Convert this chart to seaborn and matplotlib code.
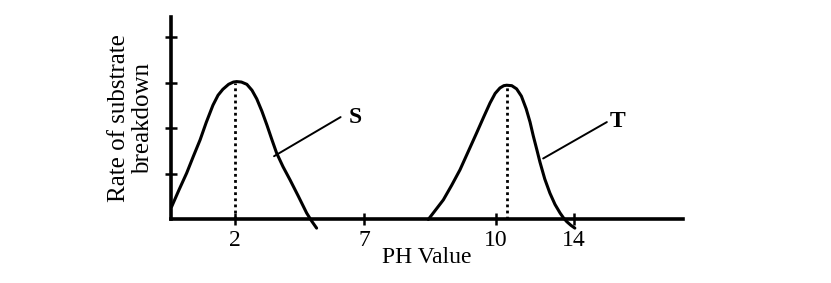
import matplotlib
matplotlib.use("Agg")
import matplotlib.pyplot as plt
import seaborn as sns
import pandas as pd

# ---- data (schematic axis units) ----
s_x = [0.02, 0.25, 0.49, 0.7, 0.91, 1.1, 1.31, 1.47, 1.62, 1.8, 1.95, 2.05, 2.2, 2.37, 2.53, 2.68, 2.84, 3.0, 3.15, 3.3, 3.5, 3.72, 3.98, 4.24, 4.4, 4.55]
s_y = [0.27, 0.64, 1.01, 1.38, 1.74, 2.12, 2.5, 2.72, 2.85, 2.96, 3.01, 3.02, 3.01, 2.96, 2.83, 2.64, 2.37, 2.06, 1.75, 1.45, 1.15, 0.86, 0.5, 0.13, -0.05, -0.2]
t_x = [8.04, 8.27, 8.51, 8.77, 9.03, 9.3, 9.55, 9.77, 9.97, 10.13, 10.28, 10.4, 10.49, 10.65, 10.8, 10.95, 11.1, 11.22, 11.32, 11.43, 11.53, 11.68, 11.84, 12.0, 12.16, 12.27, 12.37, 12.5, 12.62]
t_y = [-0.01, 0.2, 0.42, 0.74, 1.08, 1.5, 1.89, 2.24, 2.55, 2.76, 2.88, 2.93, 2.94, 2.93, 2.86, 2.7, 2.42, 2.13, 1.83, 1.53, 1.25, 0.88, 0.57, 0.32, 0.13, 0.02, -0.06, -0.14, -0.2]
s_peak_x, s_peak_y = 2.0, 3.0
t_peak_x, t_peak_y = 10.5, 2.93
xtick_pos = [2.0, 6.03, 10.16, 12.6]
xtick_labels = ["2", "7", "10", "14"]
ytick_pos = [1, 2, 3, 4]
x_label = "PH Value"
y_label = "Rate of substrate\nbreakdown"

sns.set_style("white", {"xtick.bottom": True, "ytick.left": True})
plt.rcParams["font.family"] = ["Liberation Serif", "DejaVu Serif"]
plt.rcParams["text.color"] = "black"
plt.rcParams["axes.labelcolor"] = "black"
plt.rcParams["xtick.color"] = "black"
plt.rcParams["ytick.color"] = "black"

fig = plt.figure(figsize=(8.31, 2.83), dpi=100)
ax = fig.add_axes([171 / 831, (283 - 219) / 283, 512 / 831, (219 - 17) / 283])

df_s = pd.DataFrame({"x": s_x, "y": s_y})
df_t = pd.DataFrame({"x": t_x, "y": t_y})
for df in (df_s, df_t):
    sns.lineplot(data=df, x="x", y="y", ax=ax, color="black", lw=2.2,
                 clip_on=False, sort=False, solid_joinstyle="round",
                 solid_capstyle="round")

ax.plot([s_peak_x, s_peak_x], [0, s_peak_y], color="black", lw=2.0, ls=(0, (1, 1.2)))
ax.plot([t_peak_x, t_peak_x], [0, t_peak_y], color="black", lw=2.0, ls=(0, (1, 1.2)))

# leader lines and labels
ax.plot([3.22, 5.3], [1.38, 2.24], color="black", lw=1.4)
ax.text(5.55, 2.22, "S", fontsize=17, fontweight="bold", va="center", ha="left")
ax.plot([11.63, 13.62], [1.33, 2.13], color="black", lw=1.4)
ax.text(13.7, 2.15, "T", fontsize=17, fontweight="bold", va="center", ha="left")

ax.set_xlim(0, 16)
ax.set_ylim(0, (219 - 17) / 45.5)
ax.set_xticks(xtick_pos)
ax.set_xticklabels(xtick_labels, fontsize=17)
ax.set_yticks(ytick_pos)
ax.set_yticklabels([])
ax.tick_params(axis="both", direction="inout", length=8, width=1.8, color="black")
ax.tick_params(axis="x", pad=4)

for side in ("top", "right"):
    ax.spines[side].set_visible(False)
for side in ("left", "bottom"):
    ax.spines[side].set_linewidth(2.6)
    ax.spines[side].set_color("black")

ax.set_xlabel(x_label, fontsize=17, labelpad=-3)
ax.set_ylabel(y_label, fontsize=18, linespacing=1.1, labelpad=5)
ax.grid(False)

fig.savefig("out.png", dpi=100, facecolor="white")
